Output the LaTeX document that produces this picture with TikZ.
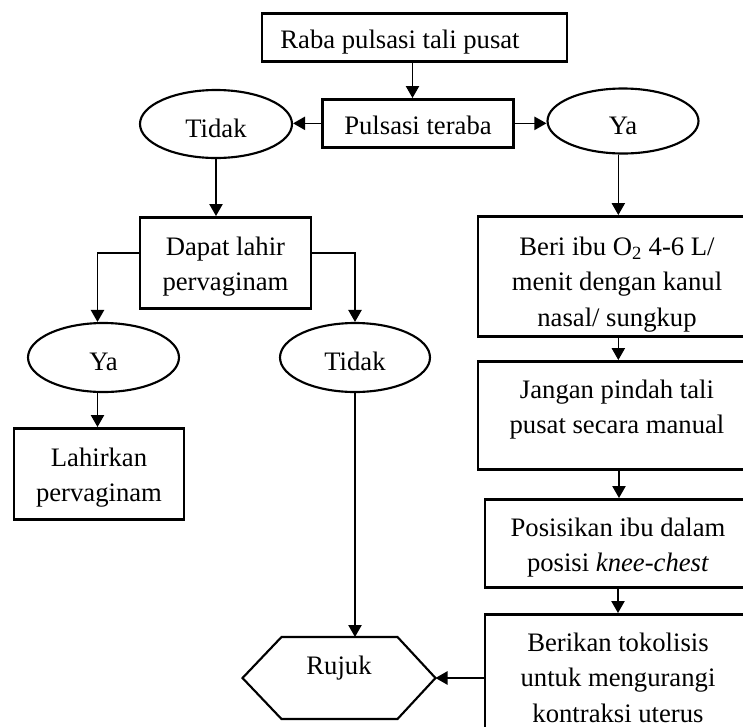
\documentclass[tikz,border=0pt]{standalone}
\usepackage{fontspec}
\setmainfont{Liberation Serif}
\usetikzlibrary{arrows.meta,shapes.geometric}

\newcommand{\atas}[1]{\rule{0pt}{#1}}
\newcommand{\bawah}[1]{\rule[-#1]{0pt}{#1}}

\tikzset{every picture/.style={line width=0.75pt}}
\tikzset{
  kotak/.style={draw, rectangle, line width=2pt, inner sep=0pt, anchor=north, align=center,
    font=\fontsize{20}{26.5}\selectfont},
  lonjong/.style={draw, ellipse, line width=1.6pt, inner sep=0pt, align=center,
    text height=20pt, text depth=0pt, font=\fontsize{20}{26.5}\selectfont},
  panah/.style={line width=1pt, -{Triangle[length=9pt,width=10pt]}}
}

\begin{document}
\begin{tikzpicture}[x=0.75pt,y=0.75pt,yscale=-1,xscale=1]
                \useasboundingbox (0,0) rectangle (743,726);
                \clip (0,0) rectangle (743,726);

                %Shape: Rectangle [id:raba]
                \node [kotak, minimum width=228.75pt] (raba) at (414.5,12) {\atas{26.25pt}Raba pulsasi tali pusat\rule{21.75pt}{0pt}\bawah{9.75pt}};
                %Shape: Rectangle [id:pulsasi]
                \node [kotak, minimum width=143.25pt] (pulsasi) at (418,98) {\atas{26.25pt}Pulsasi teraba\bawah{9.75pt}};
                %Shape: Ellipse [id:tidakA]
                \node [lonjong, minimum width=114pt, minimum height=51pt] (tidakA) at (216,124) {Tidak};
                %Shape: Ellipse [id:yaA]
                \node [lonjong, minimum width=113.25pt, minimum height=48.75pt] (yaA) at (623,121) {Ya};

                %Shape: Rectangle [id:dapat]
                \node [kotak, minimum width=128.25pt] (dapat) at (225.5,216) {\atas{28.5pt}Dapat lahir\\pervaginam\bawah{13.3pt}};
                %Shape: Ellipse [id:yaB]
                \node [lonjong, minimum width=113.25pt, minimum height=51.75pt] (yaB) at (103.5,357.5) {Ya};
                %Shape: Ellipse [id:tidakB]
                \node [lonjong, minimum width=112.5pt, minimum height=51.75pt] (tidakB) at (355,357.5) {Tidak};
                %Shape: Rectangle [id:lahirkan]
                \node [kotak, minimum width=127.5pt] (lahirkan) at (99,427) {\atas{28.5pt}Lahirkan\\pervaginam\bawah{13.3pt}};

                %Shape: Hexagon [id:rujuk]
                \node [inner sep=0pt, minimum width=144pt, minimum height=60.75pt, text height=14pt, text depth=19.2pt, font=\fontsize{20}{26.5}\selectfont] (rujuk) at (339,678) {Rujuk};
                \draw [line width=1.6pt] (rujuk.west) -- ([xshift=29.25pt]rujuk.north west) -- ([xshift=-28.5pt]rujuk.north east) -- (rujuk.east) -- ([xshift=-28.5pt]rujuk.south east) -- ([xshift=29.25pt]rujuk.south west) -- cycle ;

                %Shape: Rectangle [id:beri]
                \node [kotak, minimum width=208.5pt] (beri) at (617,215) {\atas{29.25pt}Beri ibu O\textsubscript{2} 4-6 L/\\menit dengan kanul\\nasal/ sungkup\bawah{7.8pt}};
                %Shape: Rectangle [id:jangan]
                \node [kotak, minimum width=208.5pt] (jangan) at (617,360) {\atas{27.75pt}Jangan pindah tali\\pusat secara manual\bawah{26.8pt}};
                %Shape: Rectangle [id:posisikan]
                \node [kotak, minimum width=199.5pt] (posisikan) at (618,498) {\atas{27.75pt}Posisikan ibu dalam\\posisi \textit{knee-chest}\bawah{11.8pt}};
                %Shape: Rectangle [id:berikan]
                \node [kotak, minimum width=199.5pt] (berikan) at (618,613) {\atas{27.75pt}Berikan tokolisis\\untuk mengurangi\\kontraksi uterus\bawah{16.8pt}};

                %Straight Lines [id:connectors]
                \draw [panah] ([xshift=-1.5pt]raba.south) -- ([xshift=-1.5pt]raba.south |- pulsasi.north) ;
                \draw [panah] (pulsasi.west) -- (pulsasi.west -| tidakA.east) ;
                \draw [panah] (pulsasi.east) -- (pulsasi.east -| yaA.west) ;
                \draw [panah] (tidakA.south) -- (tidakA.south |- dapat.north) ;
                \draw [panah] ([yshift=-7.35pt]dapat.west) -| ([xshift=-4.5pt]yaB.north) ;
                \draw [panah] ([yshift=-7.35pt]dapat.east) -| (tidakB.north) ;
                \draw [panah] ([xshift=-4.5pt]yaB.south) -- ([xshift=-4.5pt]yaB.south |- lahirkan.north) ;
                \draw [panah] (tidakB.south) -- (tidakB.south |- rujuk.north) ;
                \draw [panah] ([xshift=1pt]beri.north |- yaA.south) -- ([xshift=1pt]beri.north) ;
                \draw [panah] ([xshift=1pt]beri.south) -- ([xshift=1pt]jangan.north) ;
                \draw [panah] ([xshift=1.5pt]jangan.south) -- ([xshift=1.5pt]jangan.south |- posisikan.north) ;
                \draw [panah] (posisikan.south) -- (berikan.north) ;
                \draw [panah] (rujuk.east -| berikan.west) -- (rujuk.east) ;
        \end{tikzpicture}
\end{document}
